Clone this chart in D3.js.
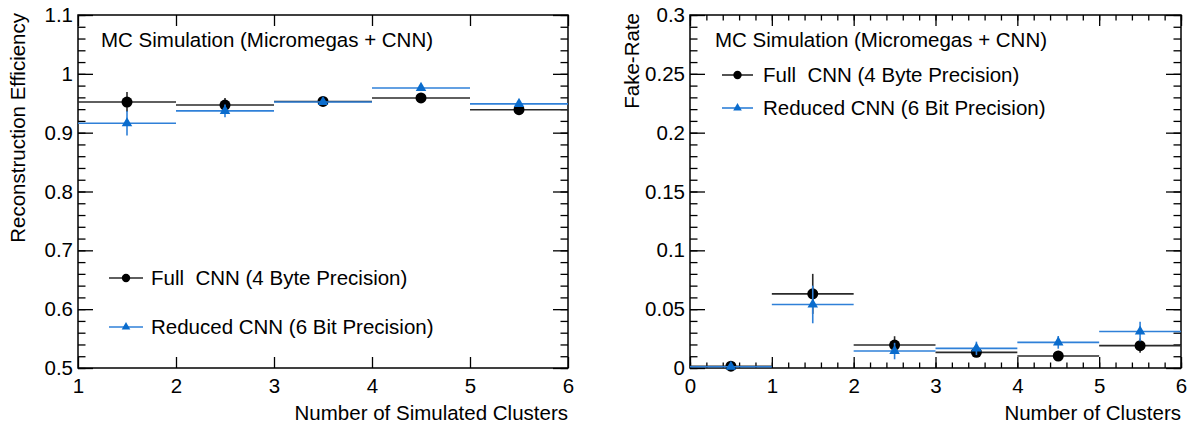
<!DOCTYPE html>
<html>
<head>
<meta charset="utf-8">
<script src="https://cdn.jsdelivr.net/npm/d3@7"></script>
<style>
  html, body { margin: 0; padding: 0; background: #fff; }
  svg text { font-family: "Liberation Sans", Arial, Helvetica, sans-serif; fill: #000; }
</style>
</head>
<body>
<svg id="chart" width="1194" height="428"></svg>
<script>
// ---- Reconstruction efficiency vs. number of simulated clusters ----
const effEdges = [1, 2, 3, 4, 5, 6];
const effFull = [0.952, 0.947, 0.953, 0.959, 0.939];
const effFullErr = [0.017, 0.012, 0.004, 0.004, 0.004];
const effReduced = [0.916, 0.937, 0.952, 0.976, 0.949];
const effReducedErr = [0.021, 0.011, 0.004, 0.004, 0.004];
const effXTicks = [1, 2, 3, 4, 5, 6];
const effXLabels = ["1", "2", "3", "4", "5", "6"];
const effYTicks = [0.5, 0.6, 0.7, 0.8, 0.9, 1.0, 1.1];
const effYLabels = ["0.5", "0.6", "0.7", "0.8", "0.9", "1", "1.1"];

// ---- Fake rate vs. number of clusters ----
const fakeEdges = [0, 1, 2, 3, 4, 5, 6];
const fakeFull = [0.0015, 0.063, 0.0195, 0.0133, 0.0102, 0.019];
const fakeFullErr = [0.001, 0.017, 0.0075, 0.003, 0.003, 0.006];
const fakeReduced = [0.001, 0.054, 0.0144, 0.0167, 0.0218, 0.031];
const fakeReducedErr = [0.001, 0.016, 0.007, 0.0057, 0.0054, 0.0082];
const fakeXTicks = [0, 1, 2, 3, 4, 5, 6];
const fakeXLabels = ["0", "1", "2", "3", "4", "5", "6"];
const fakeYTicks = [0, 0.05, 0.1, 0.15, 0.2, 0.25, 0.3];
const fakeYLabels = ["0", "0.05", "0.1", "0.15", "0.2", "0.25", "0.3"];

const seriesNames = ["Full  CNN (4 Byte Precision)", "Reduced CNN (6 Bit Precision)"];
const headerText = "MC Simulation (Micromegas + CNN)";

const BLACK_LINE = "#2a2a2a";
const BLUE_LINE = "#2f80d8";
const BLUE_MARK = "#0a6ccd";
const FS = 20.5;

const svg = d3.select("#chart");

function drawPanel(cfg) {
  const { left, right, top, bottom } = cfg;
  const x = d3.scaleLinear().domain(cfg.xDomain).range([left, right]);
  const y = d3.scaleLinear().domain(cfg.yDomain).range([bottom, top]);
  const g = svg.append("g");

  // minor ticks
  if (cfg.xMinor) {
    const xm = d3.range(cfg.xDomain[0], cfg.xDomain[1] + 1e-9, cfg.xMinor);
    g.append("g").attr("transform", `translate(0,${bottom})`)
      .call(d3.axisBottom(x).tickValues(xm).tickFormat("").tickSizeInner(-5.5).tickSizeOuter(0));
    g.append("g").attr("transform", `translate(0,${top})`)
      .call(d3.axisTop(x).tickValues(xm).tickFormat("").tickSizeInner(-5.5).tickSizeOuter(0));
  }
  const ym = d3.range(cfg.yDomain[0], cfg.yDomain[1] + 1e-9, cfg.yMinor);
  g.append("g").attr("transform", `translate(${left},0)`)
    .call(d3.axisLeft(y).tickValues(ym).tickFormat("").tickSizeInner(-7.5).tickSizeOuter(0));
  g.append("g").attr("transform", `translate(${right},0)`)
    .call(d3.axisRight(y).tickValues(ym).tickFormat("").tickSizeInner(-7.5).tickSizeOuter(0));

  // major ticks with labels
  g.append("g").attr("transform", `translate(0,${bottom})`)
    .call(d3.axisBottom(x).tickValues(cfg.xTicks)
      .tickFormat((d, i) => cfg.xLabels[i]).tickSizeInner(-11).tickSizeOuter(0).tickPadding(10));
  g.append("g").attr("transform", `translate(0,${top})`)
    .call(d3.axisTop(x).tickValues(cfg.xTicks).tickFormat("").tickSizeInner(-11).tickSizeOuter(0));
  g.append("g").attr("transform", `translate(${left},0)`)
    .call(d3.axisLeft(y).tickValues(cfg.yTicks)
      .tickFormat((d, i) => cfg.yLabels[i]).tickSizeInner(-15).tickSizeOuter(0).tickPadding(5));
  g.append("g").attr("transform", `translate(${right},0)`)
    .call(d3.axisRight(y).tickValues(cfg.yTicks).tickFormat("").tickSizeInner(-15).tickSizeOuter(0));

  g.selectAll(".domain").remove();
  g.selectAll(".tick line").attr("stroke", "#000").attr("stroke-width", 1.3);
  g.selectAll(".tick text").attr("font-size", FS).attr("font-family", null).attr("fill", "#000");

  // frame
  g.append("rect").attr("x", left).attr("y", top)
    .attr("width", right - left).attr("height", bottom - top)
    .attr("fill", "none").attr("stroke", "#000").attr("stroke-width", 1.5);

  // data series: black circles, then blue triangles
  const series = [
    { vals: cfg.full, errs: cfg.fullErr, line: BLACK_LINE, mark: "#000", sym: d3.symbolCircle, size: 95, legSize: 55 },
    { vals: cfg.reduced, errs: cfg.reducedErr, line: BLUE_LINE, mark: BLUE_MARK, sym: d3.symbolTriangle, size: 48, legSize: 32 }
  ];
  series.forEach(s => {
    const sg = g.append("g");
    s.vals.forEach((v, i) => {
      const x0 = cfg.edges[i], x1 = cfg.edges[i + 1], xc = (x0 + x1) / 2;
      sg.append("line").attr("x1", x(x0)).attr("x2", x(x1)).attr("y1", y(v)).attr("y2", y(v))
        .attr("stroke", s.line).attr("stroke-width", 1.6);
      sg.append("line").attr("x1", x(xc)).attr("x2", x(xc))
        .attr("y1", y(Math.max(cfg.yDomain[0], v - s.errs[i]))).attr("y2", y(v + s.errs[i]))
        .attr("stroke", s.line).attr("stroke-width", 1.6);
      sg.append("path").attr("d", d3.symbol(s.sym, s.size)())
        .attr("transform", `translate(${x(xc)},${y(v)})`).attr("fill", s.mark);
    });
  });

  // header
  g.append("text").attr("x", cfg.headerX).attr("y", cfg.headerY)
    .attr("font-size", FS).text(headerText);

  // legend
  cfg.legendRows.forEach((ry, k) => {
    const s = series[k];
    g.append("line").attr("x1", cfg.legendX0).attr("x2", cfg.legendX1).attr("y1", ry).attr("y2", ry)
      .attr("stroke", s.line).attr("stroke-width", 1.6);
    g.append("path").attr("d", d3.symbol(s.sym, s.legSize)())
      .attr("transform", `translate(${(cfg.legendX0 + cfg.legendX1) / 2},${ry})`).attr("fill", s.mark);
    g.append("text").attr("x", cfg.legendTextX).attr("y", ry + 7)
      .attr("font-size", FS).style("white-space", "pre").text(seriesNames[k]);
  });

  // axis titles
  g.append("text").attr("x", right).attr("y", 420).attr("text-anchor", "end")
    .attr("font-size", FS).text(cfg.xTitle);
  g.append("text").attr("transform", `translate(${cfg.yTitleX},${top - 2}) rotate(-90)`)
    .attr("text-anchor", "end").attr("font-size", FS).text(cfg.yTitle);
}

drawPanel({
  left: 78, right: 568, top: 15, bottom: 368,
  xDomain: [1, 6], yDomain: [0.5, 1.1],
  xTicks: effXTicks, xLabels: effXLabels, yTicks: effYTicks, yLabels: effYLabels,
  xMinor: null, yMinor: 0.02,
  edges: effEdges, full: effFull, fullErr: effFullErr, reduced: effReduced, reducedErr: effReducedErr,
  headerX: 101, headerY: 47,
  legendRows: [278, 327], legendX0: 109, legendX1: 143, legendTextX: 151,
  xTitle: "Number of Simulated Clusters", yTitle: "Reconstruction Efficiency", yTitleX: 25
});

drawPanel({
  left: 690, right: 1181, top: 15, bottom: 368,
  xDomain: [0, 6], yDomain: [0, 0.3],
  xTicks: fakeXTicks, xLabels: fakeXLabels, yTicks: fakeYTicks, yLabels: fakeYLabels,
  xMinor: 0.2, yMinor: 0.01,
  edges: fakeEdges, full: fakeFull, fullErr: fakeFullErr, reduced: fakeReduced, reducedErr: fakeReducedErr,
  headerX: 715, headerY: 47,
  legendRows: [75, 108], legendX0: 722, legendX1: 753, legendTextX: 763,
  xTitle: "Number of Clusters", yTitle: "Fake-Rate", yTitleX: 639
});
</script>
</body>
</html>
